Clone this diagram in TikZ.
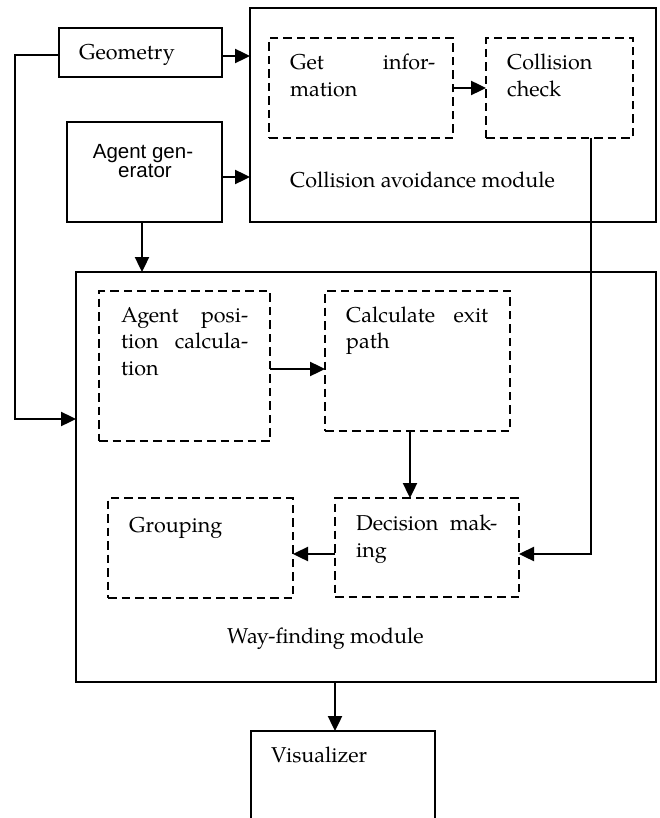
\documentclass[tikz,border=0pt]{standalone}
\usepackage{fontspec}
\setmainfont{TeX Gyre Pagella}
\newfontfamily\sansf{Liberation Sans}
\usetikzlibrary{arrows.meta}
\begin{document}
\begin{tikzpicture}[x=1pt,y=-1pt,
  solidbox/.style={draw, line width=2pt, inner sep=0pt, outer sep=0pt},
  dashbox/.style={draw, line width=2.4pt, dash pattern=on 8.5pt off 5pt, inner sep=0pt, outer sep=0pt},
  txt/.style={anchor=base west, inner sep=0pt, font=\fontsize{21.5}{26}\selectfont},
  stxt/.style={anchor=base, inner sep=0pt, font=\sansf\fontsize{20.5}{19}\selectfont},
  arr/.style={line width=2.4pt, -{Triangle[length=15pt,width=14pt]}},
  ln/.style={line width=2.4pt}]
\useasboundingbox (0,0) rectangle (659,818);
% boxes
\node[solidbox, minimum width=163pt, minimum height=49pt] (geo) at (140.5,52.5) {};
\node[solidbox, minimum width=155pt, minimum height=100pt] (ag) at (144.5,172) {};
\node[solidbox, minimum width=406pt, minimum height=214pt] (cam) at (453,115) {};
\node[dashbox, minimum width=184pt, minimum height=100pt] (gi) at (361,88) {};
\node[dashbox, minimum width=147pt, minimum height=100pt] (cc) at (559.5,88) {};
\node[solidbox, minimum width=580pt, minimum height=410pt] (wf) at (366,477) {};
\node[dashbox, minimum width=171pt, minimum height=150pt] (apc) at (184.5,366) {};
\node[dashbox, minimum width=185pt, minimum height=140pt] (cep) at (417.5,361) {};
\node[dashbox, minimum width=185pt, minimum height=100pt] (grp) at (200.5,548) {};
\node[dashbox, minimum width=184pt, minimum height=99pt] (dm) at (427,547.5) {};
\node[solidbox, minimum width=184pt, minimum height=110pt] (vis) at (342.5,786) {};
% texts
\node[txt] (geot) at (79,60) {Geometry};
\node[stxt] (agt1) at (143,159) {Agent gen-};
\node[stxt] (agt2) at (145,178) {erator};
\node[txt] (git1) at (290,70) {\makebox[145pt][s]{Get\hfill infor-}};
\node[txt] (git2) at (290,97) {mation};
\node[txt] (cct1) at (507,70) {Collision};
\node[txt] (cct2) at (507,97) {check};
\node[txt] (camt) at (290,188) {Collision avoidance module};
\node[txt] (apct1) at (121,322) {\makebox[127pt][s]{Agent\hfill posi-}};
\node[txt] (apct2) at (121,348) {\makebox[127pt][s]{tion\hfill calcula-}};
\node[txt] (apct3) at (121,375) {tion};
\node[txt] (cept1) at (346,322) {\makebox[142pt][s]{Calculate\hfill exit}};
\node[txt] (cept2) at (346,348) {path};
\node[txt] (grpt) at (129,532) {Grouping};
\node[txt] (dmt1) at (356,530) {\makebox[141pt][s]{Decision\hfill mak-}};
\node[txt] (dmt2) at (356,557) {ing};
\node[txt] (wft) at (227,643) {Way-finding module};
\node[txt] (vist) at (271,762) {Visualizer};
% connectors
\coordinate (lt) at (15,55);
\draw[arr] ([yshift=-3.5pt]geo.east) -- (cam.west |- 0,56);
\draw[arr] ([yshift=-5pt]ag.east) -- (cam.west |- 0,177);
\draw[arr] ([xshift=-2.5pt]ag.south) -- (wf.north -| 142,0);
\draw[arr] ([yshift=-2.5pt]geo.west) -- (lt) |- (wf.west |- 0,419);
\draw[arr] (gi.east) -- (cc.west);
\draw[arr] ([xshift=31.5pt]cc.south) |- (dm.east |- 0,554);
\draw[arr] ([yshift=-3pt]apc.east) -- (cep.west |- 0,369);
\draw[arr] ([xshift=-7.5pt]cep.south) -- (dm.north -| 410,0);
\draw[arr] ([yshift=-6.5pt]dm.west) -- (grp.east |- 0,554);
\draw[arr] (wf.south -| 335,0) -- (vis.north -| 335,0);
\end{tikzpicture}
\end{document}
